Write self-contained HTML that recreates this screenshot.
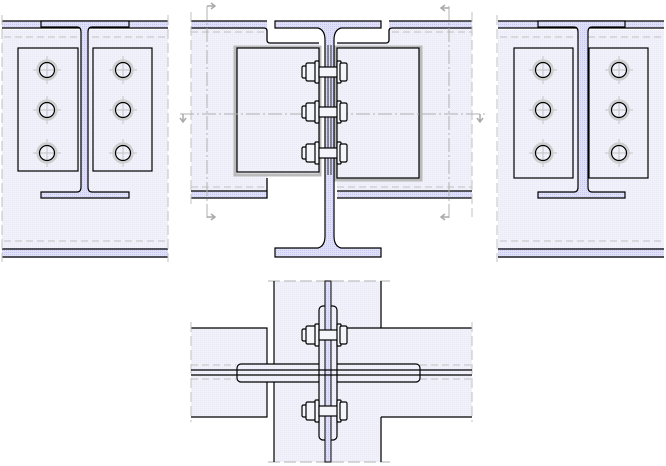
<!DOCTYPE html>
<html><head><meta charset="utf-8"><style>
html,body{margin:0;padding:0;background:#fff;}
svg{display:block;}
</style></head><body>
<svg width="666" height="466" viewBox="0 0 666 466" xmlns="http://www.w3.org/2000/svg">
<defs>
<pattern id="hb" width="2" height="2" patternUnits="userSpaceOnUse"><rect width="2" height="2" fill="#e0e0f6"/><rect width="1" height="1" fill="#c8c8ec"/></pattern>
<pattern id="lb" width="2" height="2" patternUnits="userSpaceOnUse"><rect width="2" height="2" fill="#f1f1fa"/><rect width="1" height="1" fill="#e9e9f6"/></pattern>
<g id="bolt" stroke="#000" stroke-width="1.2" fill="#f4f4fb">
<rect x="302" y="-6" width="6" height="12" rx="1.5"/>
<rect x="306" y="-9" width="10" height="18" rx="1.5"/>
<rect x="315" y="-11" width="4" height="22" rx="1"/>
<rect x="319" y="-5" width="19" height="10"/>
<rect x="337" y="-11" width="4" height="22" rx="1"/>
<rect x="340" y="-9" width="7" height="18" rx="1.5"/>
</g>
<g id="hole">
<line x1="-14" y1="0" x2="14" y2="0" stroke="#c4c4c4" stroke-width="1"/>
<line x1="0" y1="-14" x2="0" y2="14" stroke="#c4c4c4" stroke-width="1"/>
<circle r="9.5" fill="none" stroke="#cfcfcf" stroke-width="2.5"/>
<circle r="7.5" fill="none" stroke="#000" stroke-width="1.2"/>
</g>
</defs>

<g>
<rect x="2" y="30" width="166" height="218" fill="url(#lb)"/>
<rect x="2" y="21" width="166" height="7" fill="url(#hb)"/>
<rect x="2" y="248" width="166" height="10" fill="url(#hb)"/>
<line x1="2" y1="21" x2="168" y2="21" stroke="#000" stroke-width="1.3"/>
<line x1="2" y1="28" x2="168" y2="28" stroke="#000" stroke-width="1.3"/>
<line x1="2" y1="249" x2="168" y2="249" stroke="#000" stroke-width="1.3"/>
<line x1="2" y1="257" x2="168" y2="257" stroke="#000" stroke-width="1.3"/>
<line x1="4" y1="37" x2="168" y2="37" stroke="#c0c0c0" stroke-dasharray="7,4"/>
<line x1="4" y1="241" x2="168" y2="241" stroke="#c0c0c0" stroke-dasharray="7,4"/>
<line x1="2" y1="15" x2="2" y2="262" stroke="#c0c0c0" stroke-dasharray="10,4"/>
<line x1="168" y1="15" x2="168" y2="262" stroke="#c0c0c0" stroke-dasharray="10,4"/>
<rect x="18" y="48" width="60" height="123" fill="url(#lb)" stroke="#000" stroke-width="1.2"/>
<rect x="93" y="48" width="59" height="123" fill="url(#lb)" stroke="#000" stroke-width="1.2"/>
<path d="M41,21 H129 V27 H92 Q88,27 88,32 V187 Q88,192 92,192 H129 V198 H41 V192 H77 Q81,192 81,187 V32 Q81,27 77,27 H41 Z" fill="url(#hb)" stroke="#000" stroke-width="1.2"/>
<use href="#hole" x="47" y="70"/><use href="#hole" x="47" y="110"/><use href="#hole" x="47" y="153"/>
<use href="#hole" x="123" y="70"/><use href="#hole" x="123" y="110"/><use href="#hole" x="123" y="153"/>
</g>
<g transform="translate(496,0)">
<rect x="2" y="30" width="166" height="218" fill="url(#lb)"/>
<rect x="2" y="21" width="166" height="7" fill="url(#hb)"/>
<rect x="2" y="248" width="166" height="10" fill="url(#hb)"/>
<line x1="2" y1="21" x2="168" y2="21" stroke="#000" stroke-width="1.3"/>
<line x1="2" y1="28" x2="168" y2="28" stroke="#000" stroke-width="1.3"/>
<line x1="2" y1="249" x2="168" y2="249" stroke="#000" stroke-width="1.3"/>
<line x1="2" y1="257" x2="168" y2="257" stroke="#000" stroke-width="1.3"/>
<line x1="4" y1="37" x2="168" y2="37" stroke="#c0c0c0" stroke-dasharray="7,4"/>
<line x1="4" y1="241" x2="168" y2="241" stroke="#c0c0c0" stroke-dasharray="7,4"/>
<line x1="1" y1="15" x2="1" y2="262" stroke="#c0c0c0" stroke-dasharray="10,4"/>
<rect x="18" y="48" width="59" height="130" fill="url(#lb)" stroke="#000" stroke-width="1.2"/>
<rect x="93" y="48" width="59" height="130" fill="url(#lb)" stroke="#000" stroke-width="1.2"/>
<path d="M42,21 H129 V27 H96 Q92,27 92,32 V187 Q92,192 96,192 H129 V198 H42 V192 H78 Q82,192 82,187 V32 Q82,27 78,27 H42 Z" fill="url(#hb)" stroke="#000" stroke-width="1.2"/>
<use href="#hole" x="47" y="70"/><use href="#hole" x="47" y="110"/><use href="#hole" x="47" y="153"/>
<use href="#hole" x="123" y="70"/><use href="#hole" x="123" y="110"/><use href="#hole" x="123" y="153"/>
</g>

<!-- center view -->
<g>
<path d="M191,21 H267 V43 H319 V174 H267 V198 H191 Z" fill="url(#lb)"/>
<path d="M389,21 H472 V198 H337 V43 H389 Z" fill="url(#lb)"/>
<rect x="191" y="21" width="76" height="7" fill="url(#hb)"/>
<rect x="389" y="21" width="83" height="7" fill="url(#hb)"/>
<rect x="191" y="191" width="76" height="7" fill="url(#hb)"/>
<rect x="337" y="191" width="135" height="7" fill="url(#hb)"/>
<path d="M191,21 H267 M191,28 H264 Q267,28 267,31 V40 Q267,43 270,43 H319" fill="none" stroke="#000" stroke-width="1.3"/>
<path d="M472,21 H389 M472,28 H392 Q389,28 389,31 V40 Q389,43 386,43 H337" fill="none" stroke="#000" stroke-width="1.3"/>
<path d="M191,198 H267 V178 M191,191 H267" fill="none" stroke="#000" stroke-width="1.3"/>
<path d="M472,198 H337 M472,191 H337" fill="none" stroke="#000" stroke-width="1.3"/>
<line x1="191" y1="32" x2="266" y2="32" stroke="#c0c0c0" stroke-dasharray="7,4"/>
<line x1="392" y1="32" x2="472" y2="32" stroke="#c0c0c0" stroke-dasharray="7,4"/>
<line x1="191" y1="187" x2="266" y2="187" stroke="#c0c0c0" stroke-dasharray="7,4"/>
<line x1="337" y1="187" x2="472" y2="187" stroke="#c0c0c0" stroke-dasharray="7,4"/>
<line x1="191" y1="12" x2="191" y2="207" stroke="#c0c0c0" stroke-dasharray="10,4"/>
<line x1="472" y1="12" x2="472" y2="217" stroke="#c0c0c0" stroke-dasharray="10,4"/>
<rect x="235" y="47" width="85" height="128" fill="none" stroke="#bbb" stroke-width="3"/>
<rect x="237" y="48" width="82" height="124" fill="url(#lb)" stroke="#000" stroke-width="1.2"/>
<rect x="336" y="47" width="85" height="133" fill="none" stroke="#bbb" stroke-width="3"/>
<rect x="337" y="48" width="82" height="130" fill="url(#lb)" stroke="#000" stroke-width="1.2"/>
<path d="M275,21 H381 V28 H341 Q334,30 334,40 V236 Q334,246 341,248 H381 V257 H275 V248 H318 Q325,246 325,236 V40 Q325,30 318,28 H275 Z" fill="url(#hb)" stroke="#000" stroke-width="1.2"/>
<line x1="328" y1="45" x2="328" y2="175" stroke="#000" stroke-width="0.8"/>
<line x1="331" y1="45" x2="331" y2="175" stroke="#000" stroke-width="0.8"/>
<line x1="180" y1="114" x2="486" y2="114" stroke="#b0b0b0" stroke-dasharray="14,3,2,3"/>
<path d="M183,114 V121 M180,118 L183,122 L186,118" stroke="#aaa" fill="none" stroke-width="1.5"/>
<path d="M480,114 V121 M477,118 L480,122 L483,118" stroke="#aaa" fill="none" stroke-width="1.5"/>
<line x1="207" y1="6" x2="207" y2="218" stroke="#b0b0b0" stroke-dasharray="14,3,2,3"/>
<line x1="449" y1="6" x2="449" y2="218" stroke="#b0b0b0" stroke-dasharray="14,3,2,3"/>
<path d="M207,6 H214 M211,3 L215,6 L211,9 M207,217 H214 M211,214 L215,217 L211,220" stroke="#aaa" fill="none" stroke-width="1.5"/>
<path d="M449,8 H442 M445,5 L441,8 L445,11 M449,217 H442 M445,214 L441,217 L445,220" stroke="#aaa" fill="none" stroke-width="1.5"/>
<use href="#bolt" y="72"/><use href="#bolt" y="112"/><use href="#bolt" y="153"/>
</g>

<!-- bottom view -->
<g>
<rect x="274" y="281" width="108" height="181" fill="url(#lb)"/>
<rect x="191" y="328" width="76" height="89" fill="url(#lb)"/>
<rect x="382" y="328" width="90" height="89" fill="url(#lb)"/>
<line x1="268" y1="281" x2="390" y2="281" stroke="#c0c0c0" stroke-width="1.3" stroke-dasharray="12,4"/>
<line x1="268" y1="462" x2="390" y2="462" stroke="#c0c0c0" stroke-width="1.3" stroke-dasharray="12,4"/>
<line x1="274" y1="281" x2="274" y2="462" stroke="#000" stroke-width="1.2"/>
<line x1="381" y1="281" x2="381" y2="328" stroke="#000" stroke-width="1.2"/>
<line x1="381" y1="417" x2="381" y2="462" stroke="#000" stroke-width="1.2"/>
<path d="M191,328 H267 V417 H191" fill="none" stroke="#000" stroke-width="1.2"/>
<path d="M472,328 H340 M472,417 H381" fill="none" stroke="#000" stroke-width="1.2"/>
<line x1="191" y1="322" x2="191" y2="422" stroke="#c0c0c0" stroke-dasharray="10,4"/>
<line x1="472" y1="322" x2="472" y2="422" stroke="#c0c0c0" stroke-dasharray="10,4"/>
<line x1="191" y1="365" x2="236" y2="365" stroke="#c0c0c0" stroke-dasharray="7,4"/>
<line x1="191" y1="379" x2="236" y2="379" stroke="#c0c0c0" stroke-dasharray="7,4"/>
<line x1="420" y1="365" x2="472" y2="365" stroke="#c0c0c0" stroke-dasharray="7,4"/>
<line x1="420" y1="379" x2="472" y2="379" stroke="#c0c0c0" stroke-dasharray="7,4"/>
<rect x="237" y="364" width="183" height="18" rx="4" fill="url(#lb)" stroke="#000" stroke-width="1.2"/>
<rect x="319" y="306" width="18" height="134" rx="4" fill="url(#lb)" stroke="#000" stroke-width="1.2"/>
<rect x="325" y="281" width="6" height="181" fill="url(#hb)" stroke="#000" stroke-width="1"/>
<line x1="191" y1="370" x2="472" y2="370" stroke="#000" stroke-width="1.2"/>
<line x1="191" y1="375" x2="472" y2="375" stroke="#000" stroke-width="1.2"/>
<use href="#bolt" y="335"/><use href="#bolt" y="411"/>
</g>
</svg>
</body></html>
